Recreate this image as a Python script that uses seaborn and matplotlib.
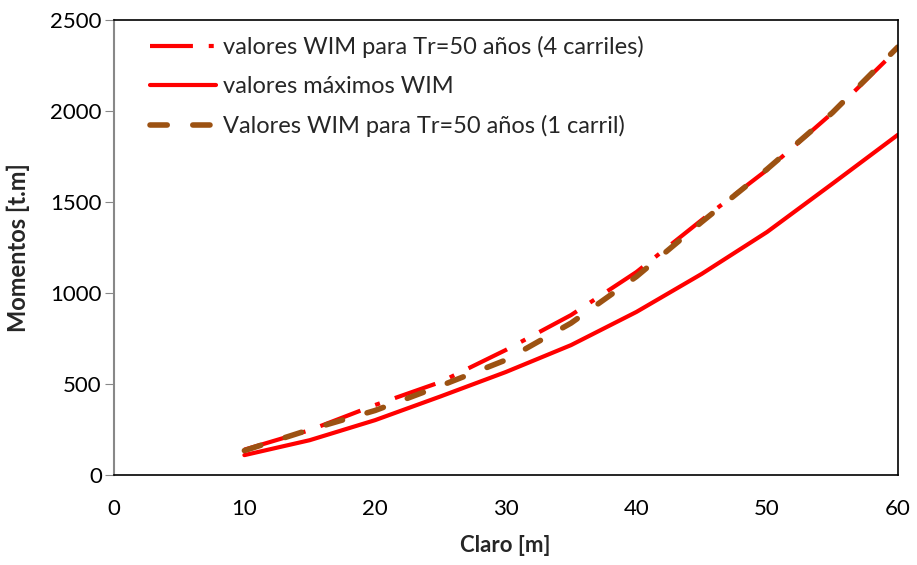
import seaborn as sns
import matplotlib.pyplot as plt
import pandas as pd

sns.set_style("white")
plt.rcParams['font.family'] = ['Lato', 'DejaVu Sans']

# ----------- Data -----------
claro = [10, 15, 20, 25, 30, 35, 40, 45, 50, 55, 60]
wim_4_carriles = [140, 247, 385, 511, 687, 879, 1115, 1401, 1676, 1989, 2340]
wim_maximos = [110, 192, 302, 432, 566, 714, 896, 1105, 1335, 1600, 1868]
wim_1_carril = [135, 250, 355, 490, 632, 835, 1090, 1390, 1680, 1990, 2350]

df = pd.DataFrame({
    "Claro": claro,
    "4 carriles": wim_4_carriles,
    "maximos": wim_maximos,
    "1 carril": wim_1_carril,
})

fig = plt.figure(figsize=(9.17, 5.65), dpi=100)
ax = fig.add_axes([0.124, 0.159, 0.855, 0.806])

sns.lineplot(data=df, x="Claro", y="4 carriles", ax=ax, color="#FF0000", lw=3,
             label="valores WIM para Tr=50 años (4 carriles)")
ax.lines[-1].set_dashes([10.3, 3.8, 1.2, 3.8])
sns.lineplot(data=df, x="Claro", y="maximos", ax=ax, color="#FF0000", lw=3,
             label="valores máximos WIM")
sns.lineplot(data=df, x="Claro", y="1 carril", ax=ax, color="#9C5212", lw=4,
             label="Valores WIM para Tr=50 años (1 carril)")
ax.lines[-1].set_dashes([3.1, 4.6])
ax.lines[-1].set_dash_capstyle("round")

ax.set_xlim(0, 60)
ax.set_ylim(0, 2500)
ax.set_xticks(range(0, 61, 10))
ax.set_yticks(range(0, 2501, 500))
ax.tick_params(axis="both", labelsize=16, colors="black")
ax.tick_params(axis="y", direction="out", length=6.5, color="#888888", left=True, pad=2)
ax.tick_params(axis="x", length=0, pad=17)

ax.set_xlabel("Claro [m]", fontsize=16, fontweight="bold", labelpad=12)
ax.set_ylabel("Momentos [t.m]", fontsize=17, fontweight="bold")
ax.yaxis.set_label_coords(-0.107, 0.5)

for side in ["top", "right", "bottom"]:
    ax.spines[side].set_color("black")
    ax.spines[side].set_linewidth(1.2)
ax.spines["left"].set_color("#888888")
ax.spines["left"].set_linewidth(1.5)

leg = ax.legend(loc="upper left", frameon=False, fontsize=17, handlelength=2.8,
                handletextpad=0.3, bbox_to_anchor=(0.025, 1.0), labelspacing=0.75,
                borderaxespad=0.3)

fig.savefig("out.png", dpi=100)
